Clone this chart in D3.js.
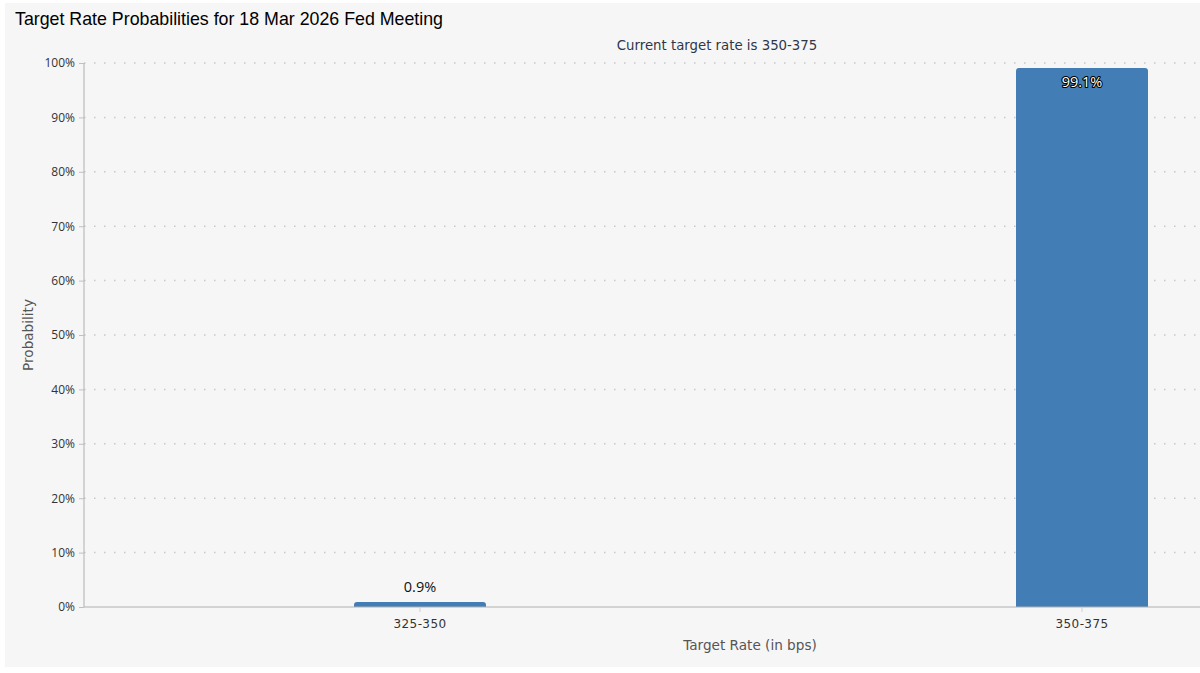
<!DOCTYPE html>
<html><head><meta charset="utf-8">
<script src="https://cdn.jsdelivr.net/npm/d3@7"></script>
<style>
html,body{margin:0;padding:0;background:#fff;}
svg{display:block;}
</style></head>
<body>
<svg id="chart" width="1200" height="673"></svg>
<script>
const categories = ["325-350", "350-375"];
const probabilities = [0.9, 99.1];
const yTicks = [0,10,20,30,40,50,60,70,80,90,100];
const titleText = "Target Rate Probabilities for 18 Mar 2026 Fed Meeting";
const subtitleText = "Current target rate is 350-375";
const xTitle = "Target Rate (in bps)";
const yTitle = "Probability";

(function(){
const svg = d3.select("#chart");
const W = 1200, H = 673;
const mLeft = 84, mTop = 63, mBottom = 607, rightEdge = 1200;
const dv = "'DejaVu Sans', 'Open Sans', sans-serif";
const os = "'Open Sans', 'DejaVu Sans', sans-serif";

svg.append("rect").attr("x",5).attr("y",3).attr("width",W-5).attr("height",664).attr("fill","#f6f6f6");

const x = d3.scaleBand().domain(categories).range([89, 1413]).padding(0);
const y = d3.scaleLinear().domain([0,100]).range([mBottom, mTop]);

// gridlines
svg.append("g").selectAll("line").data(yTicks.filter(d=>d>0)).join("line")
  .attr("x1", mLeft).attr("x2", rightEdge)
  .attr("y1", d=>y(d)).attr("y2", d=>y(d))
  .attr("stroke","#c8c8c8").attr("stroke-width",1.5).attr("stroke-dasharray","1.5,8.5");

// y axis
const yAxis = d3.axisLeft(y).tickValues(yTicks).tickFormat(d=>d+"%").tickSize(5).tickPadding(4);
const gy = svg.append("g").attr("transform",`translate(${mLeft},0)`).call(yAxis);
gy.select(".domain").attr("stroke","#b0b0b0").attr("d",`M0,${mTop}V${mBottom}`);
gy.selectAll(".tick line").attr("stroke","#c0c0c0");
gy.selectAll(".tick text").attr("fill","#333").style("font-family",os).style("font-size","12px");

// bars
const barW = 132;
const r = 3;
svg.append("g").selectAll("path").data(probabilities).join("path")
  .attr("fill","#427db5")
  .attr("d",(d,i)=>{
    const cx = x(categories[i]) + x.bandwidth()/2;
    const x0 = cx - barW/2, x1 = cx + barW/2;
    const yt = y(d), yb = y(0);
    return `M${x0},${yb}V${yt+r}Q${x0},${yt} ${x0+r},${yt}H${x1-r}Q${x1},${yt} ${x1},${yt+r}V${yb}Z`;
  });

// x axis
const xAxis = d3.axisBottom(x).tickSize(5).tickPadding(7);
const gx = svg.append("g").attr("transform",`translate(0,${mBottom})`).call(xAxis);
gx.select(".domain").attr("stroke","#b0b0b0").attr("d",`M${mLeft},0H${rightEdge}`);
gx.selectAll(".tick line").attr("stroke","#d0d0d0");
gx.selectAll(".tick text").attr("fill","#333").style("font-family",dv).style("font-size","12px").style("letter-spacing","0.4px");

// bar labels
probabilities.forEach((d,i)=>{
  const cx = x(categories[i]) + x.bandwidth()/2;
  const inside = d > 50;
  const t = svg.append("text").attr("x",cx).attr("text-anchor","middle")
    .style("font-family",os).style("font-size","14.5px")
    .text(d.toFixed(1)+"%");
  if (inside) {
    t.attr("y", y(d)+19).attr("fill","#fff").attr("stroke","#000").attr("stroke-width",2.2)
     .attr("paint-order","stroke").attr("stroke-linejoin","round");
  } else {
    t.attr("y", y(d)-10).attr("fill","#111");
  }
});

// titles
svg.append("text").attr("x",15).attr("y",25).text(titleText)
  .style("font-family","'Liberation Sans', Arial, sans-serif").style("font-size","17.8px").attr("fill","#000");
svg.append("text").attr("x",717).attr("y",50).attr("text-anchor","middle").text(subtitleText)
  .style("font-family",dv).style("font-size","13.3px").attr("fill","#2f364a");
svg.append("text").attr("x",750).attr("y",650).attr("text-anchor","middle").text(xTitle)
  .style("font-family",dv).style("font-size","13.6px").attr("fill","#555");
svg.append("text").attr("transform","translate(33,335) rotate(-90)").attr("text-anchor","middle").text(yTitle)
  .style("font-family",dv).style("font-size","13.6px").attr("fill","#555");
})();
</script>
</body></html>
